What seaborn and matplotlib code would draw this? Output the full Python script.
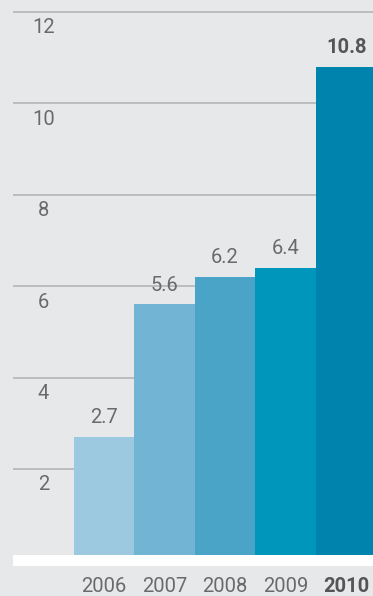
import matplotlib
matplotlib.use("Agg")
import matplotlib.pyplot as plt
import seaborn as sns
import pandas as pd

years = ["2006", "2007", "2008", "2009", "2010"]
values = [2.7, 5.6, 6.2, 6.4, 10.8]
value_labels = ["2.7", "5.6", "6.2", "6.4", "10.8"]
bar_colors = ["#9dc9e0", "#72b4d4", "#49a4c8", "#0096bb", "#0083ac"]
y_ticks = [2, 4, 6, 8, 10, 12]
y_tick_labels = ["2", "4", "6", "8", "10", "12"]

sns.set_theme(style="white")
plt.rcParams["font.family"] = ["Roboto", "DejaVu Sans"]

bg = "#e7e8ea"
fig = plt.figure(figsize=(3.73, 5.96), dpi=100, facecolor=bg)
ax = fig.add_axes([13 / 373, 30 / 596, 360 / 373, 566 / 596])
ax.set_facecolor(bg)

df = pd.DataFrame({"year": years, "value": values})
sns.barplot(data=df, x="year", y="value", hue="year", palette=bar_colors,
            width=1.0, saturation=1, legend=False, ax=ax, zorder=2,
            linewidth=0, edgecolor="none")

ax.set_xlim(-1.5, 4.44)
ax.set_ylim(-0.1225, 12.263)

# white baseline band
ax.axhspan(-0.1225, 0.118, color="white", zorder=3, lw=0)

# gridlines
ax.set_yticks(y_ticks)
ax.set_yticklabels([])
ax.grid(axis="y", color="#b8b9bb", lw=1.3)
ax.set_axisbelow(True)
ax.tick_params(axis="y", length=0)

fs = 14.5
txt_color = "#6a6a6a"
for t, lab in zip(y_ticks, y_tick_labels):
    ax.annotate(lab, xy=(-1.0, t), xytext=(0, -11.5), textcoords="offset points",
                ha="center", va="center", fontsize=fs, color=txt_color,
                fontweight="normal", zorder=4)

# value labels
for i, (v, lab) in enumerate(zip(values, value_labels)):
    bold = (i == len(values) - 1)
    ax.annotate(lab, xy=(i, v), xytext=(0, 14), textcoords="offset points",
                ha="center", va="center", fontsize=fs,
                color="#555555" if bold else txt_color,
                fontweight="bold" if bold else "normal", zorder=4)

ax.set_xlabel("")
ax.set_ylabel("")
ax.tick_params(axis="x", length=0, pad=8.2)
ax.set_xticks(range(len(years)))
ax.set_xticklabels(years, fontsize=fs, color=txt_color)
for i, lbl in enumerate(ax.get_xticklabels()):
    if i == len(years) - 1:
        lbl.set_fontweight("bold")
        lbl.set_color("#555555")

for s in ax.spines.values():
    s.set_visible(False)

fig.savefig("out.png", dpi=100, facecolor=bg)
